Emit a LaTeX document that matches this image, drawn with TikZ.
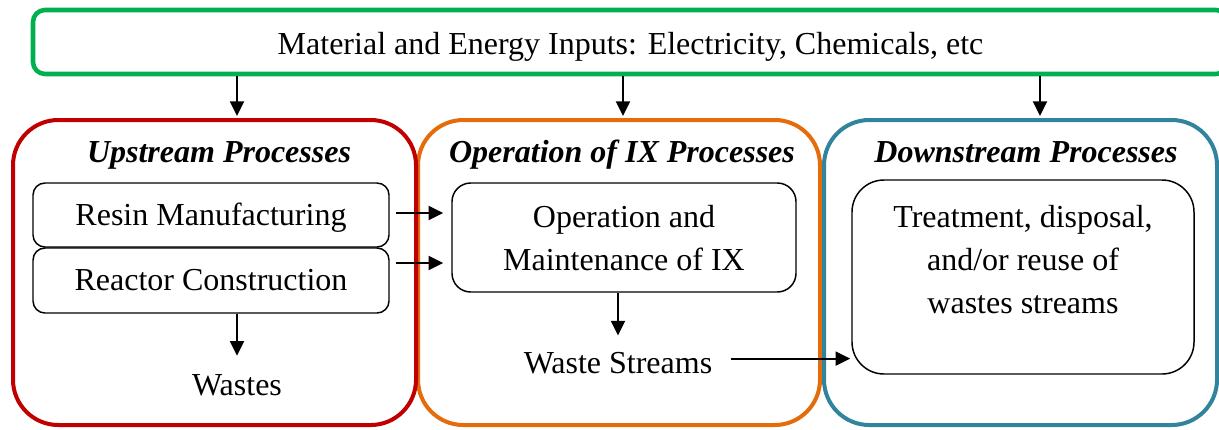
\documentclass[tikz,border=0pt]{standalone}
\usepackage{fontspec}
\setmainfont{Liberation Serif}
\usetikzlibrary{arrows.meta,fit,calc}
\definecolor{ingreen}{RGB}{0,176,80}
\definecolor{upred}{RGB}{192,0,0}
\definecolor{ixorange}{RGB}{228,108,10}
\definecolor{downblue}{RGB}{49,132,155}

\begin{document}
\begin{tikzpicture}[x=0.75pt,y=-0.75pt,
  font=\fontsize{24pt}{31.9pt}\selectfont,
  stage/.style={draw=#1, line width=3pt, rounded corners=34pt, inner sep=0pt},
  inbox/.style={draw=ingreen, line width=3.4pt, rounded corners=9pt, inner sep=0pt},
  unit/.style={draw=black, line width=1.1pt, rounded corners=#1, inner sep=0pt},
  lbl/.style={inner sep=0pt, anchor=base, align=center},
  title/.style={lbl, font=\fontsize{24pt}{31.9pt}\selectfont\bfseries\itshape},
  arr/.style={-{Triangle[length=11pt,width=10.5pt]}, line width=1.5pt}
]
\useasboundingbox (0,0) rectangle (1219,429);

% input bar across the top
\node[inbox, fit={(33,10) (1228,74)}] (inputs) {};
\node[lbl] (inputstext) at (630.5,54) {Material and Energy Inputs: Electricity, Chemicals, etc};

% the three stages
\node[stage=ixorange, fit={(418,120) (820,425)}] (ix) {};
\node[stage=upred, fit={(13,120) (416,425)}] (up) {};
\node[stage=downblue, fit={(824,120) (1217,425)}] (down) {};

\node[title] (uptitle) at (219,162) {Upstream Processes};
\node[title] (ixtitle) at (622,162) {Operation of IX Processes};
\node[title] (downtitle) at (1026,162) {Downstream Processes};

% process boxes
\node[unit=9pt, fit={(33,183) (389,247)}] (resin) {};
\node[unit=9pt, fit={(33,248) (389,313)}] (reactor) {};
\node[unit=14pt, fit={(452,183) (796,292)}] (om) {};
\node[unit=24pt, fit={(852,180) (1194,374)}] (treat) {};

% box texts (multi-line nodes sit on the baseline of their last line)
\node[lbl] (resintext) at (211,225) {Resin Manufacturing};
\node[lbl] (reactortext) at (211,290) {Reactor Construction};
\node[lbl] (omtext) at (624,270) {Operation and\\Maintenance of IX};
\node[lbl] (treattext) at (1023,313) {Treatment, disposal,\\and/or reuse of\\wastes streams};

% waste outputs
\node[lbl] (wastes) at (237,395) {Wastes};
\node[lbl] (ws) at (618,373) {Waste Streams};

% columns of the input arrows
\coordinate (col1) at (237,0);
\coordinate (col2) at (623,0);
\coordinate (col3) at (1040,0);

% connectors
\draw[arr, shorten >=1.5pt] (inputs.south -| col1) -- (up.north -| col1);
\draw[arr, shorten >=1.5pt] (inputs.south -| col2) -- (ix.north -| col2);
\draw[arr, shorten >=1.5pt] (inputs.south -| col3) -- (down.north -| col3);

\draw[arr] ($(resin.east)+(6,-2)$) coordinate (r1) -- ($(r1 -| om.west)+(-8,0)$);
\draw[arr] ($(reactor.east)+(6,-17.5)$) coordinate (r2) -- ($(r2 -| om.west)+(-8,0)$);

\draw[arr, shorten >=13.5pt] (reactor.south -| wastes) -- (wastes.north);
\draw[arr, shorten >=12pt] (om.south -| ws) -- (ws.north);
\draw[arr, shorten >=0.8pt] ($(ws.east)+(18,-4)$) coordinate (w1) -- (w1 -| treat.west);
\end{tikzpicture}
\end{document}
